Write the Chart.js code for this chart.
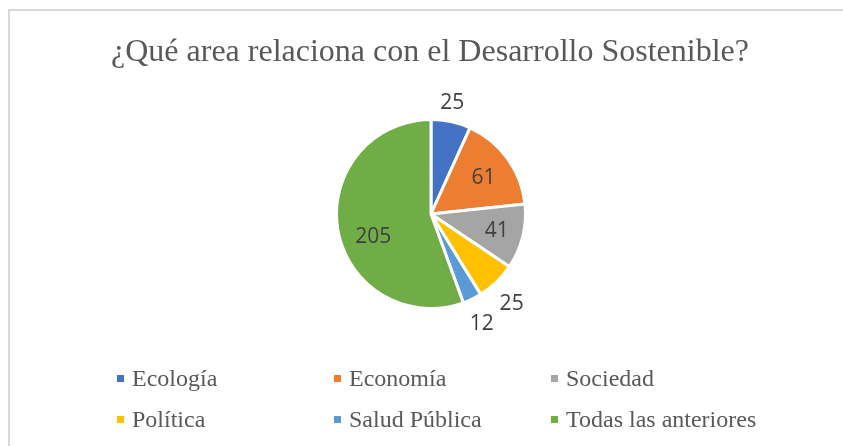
<!DOCTYPE html>
<html>
<head>
<meta charset="utf-8">
<script src="https://cdn.jsdelivr.net/npm/chart.js@4/dist/chart.umd.min.js"></script>
<style>
html,body{margin:0;padding:0;background:#fff;}
#wrap{position:relative;width:843px;height:446px;}
</style>
</head>
<body>
<div id="wrap"><canvas id="c" width="843" height="446"></canvas></div>
<script>
const title = "¿Qué area relaciona con el Desarrollo Sostenible?";
const categories = ["Ecología", "Economía", "Sociedad", "Política", "Salud Pública", "Todas las anteriores"];
const values = [25, 61, 41, 25, 12, 205];
const colors = ["#4472C4", "#ED7D31", "#A5A5A5", "#FFC000", "#5B9BD5", "#70AD47"];

// label placement style: distance as fraction of radius, angle tweak (deg)
const labelDist = [1.20, 0.67, 0.72, 1.28, 1.28, 0.66];
const labelAngle = [-1.4, 1.7, 1.0, 2.1, 1.0, -12];

const framePlugin = {
  id: 'frame',
  beforeDraw(chart) {
    const ctx = chart.ctx;
    ctx.save();
    ctx.fillStyle = '#fff';
    ctx.fillRect(0, 0, chart.width, chart.height);
    ctx.fillStyle = '#d9d9d9';
    ctx.fillRect(8, 9, chart.width - 8, 2);
    ctx.fillRect(8, 9, 2, chart.height - 9);
    // title
    ctx.fillStyle = '#595959';
    ctx.font = '32px "Liberation Serif", "Times New Roman", serif';
    ctx.textAlign = 'center';
    ctx.textBaseline = 'middle';
    ctx.fillText(title, 430, 53);
    ctx.restore();
  },
  afterDraw(chart) {
    const ctx = chart.ctx;
    ctx.save();
    // data labels
    const meta = chart.getDatasetMeta(0);
    ctx.font = '21px "Open Sans", "Liberation Sans", sans-serif';
    ctx.fillStyle = '#404040';
    ctx.textAlign = 'center';
    ctx.textBaseline = 'middle';
    meta.data.forEach((arc, i) => {
      const p = arc.getProps(['x', 'y', 'startAngle', 'endAngle', 'outerRadius'], true);
      const mid = (p.startAngle + p.endAngle) / 2 + labelAngle[i] * Math.PI / 180;
      const d = p.outerRadius * labelDist[i];
      ctx.fillText(String(chart.data.datasets[0].data[i]), p.x + Math.cos(mid) * d, p.y + Math.sin(mid) * d);
    });
    // legend grid
    const colX = [117, 334, 551];
    const rowY = [379, 420];
    ctx.font = '24px "Liberation Serif", "Times New Roman", serif';
    ctx.textAlign = 'left';
    chart.data.labels.forEach((lab, i) => {
      const cx = colX[i % 3], cy = rowY[Math.floor(i / 3)];
      ctx.fillStyle = chart.data.datasets[0].backgroundColor[i];
      ctx.fillRect(cx, cy - 4, 7, 7);
      ctx.fillStyle = '#595959';
      ctx.fillText(lab, cx + 15, cy + 1);
    });
    ctx.restore();
  }
};

new Chart(document.getElementById('c'), {
  type: 'pie',
  data: {
    labels: categories,
    datasets: [{
      data: values,
      backgroundColor: colors,
      borderColor: '#ffffff',
      borderWidth: 3
    }]
  },
  options: {
    responsive: false,
    animation: false,
    layout: { padding: { left: 335, right: 316, top: 118, bottom: 136 } },
    plugins: {
      legend: { display: false },
      title: { display: false },
      tooltip: { enabled: false }
    }
  },
  plugins: [framePlugin]
});
</script>
</body>
</html>
